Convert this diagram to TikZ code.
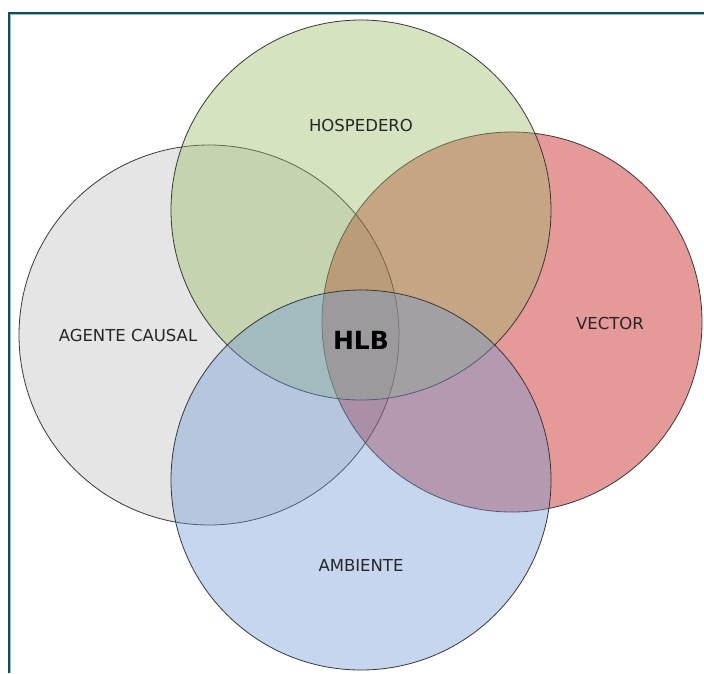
\documentclass[tikz,border=0pt]{standalone}
\usepackage{fontspec}
\setmainfont{DejaVu Sans}
\usetikzlibrary{positioning}

\definecolor{agentefill}{RGB}{192,192,192}
\definecolor{hospfill}{RGB}{150,185,98}
\definecolor{vectorfill}{RGB}{190,0,0}
\definecolor{ambfill}{RGB}{110,153,213}
\definecolor{frameline}{RGB}{25,75,95}
\definecolor{frameinner}{RGB}{140,190,215}

\tikzset{
  set/.style={circle, draw=black!78, line width=0.8pt, minimum size=380pt, fill opacity=0.4, text opacity=1, inner sep=0pt},
  setlabel/.style={font=\fontsize{16.5}{20}\selectfont, text=black!85}
}

\begin{document}
\begin{tikzpicture}[x=1pt, y=-1pt]
        \useasboundingbox (0,0) rectangle (704,673);
        \fill[white] (0,0) rectangle (704,673);
        % frame
        \coordinate (fa) at (9.5,673);
        \coordinate (fb) at (9.5,13.5);
        \coordinate (fc) at (704,13.5);
        \draw[frameinner, line width=3pt] (fa) -- (fb) -- (fc);
        \draw[frameline, line width=1.6pt] ([xshift=-0.6pt]fa) -- ([xshift=-0.6pt,yshift=0.6pt]fb) -- ([yshift=0.6pt]fc);
        % circles
        \node[set, fill=agentefill] (agente)    at (209,335) {};
        \node[set, fill=vectorfill] (vector)    at (512,322) {};
        \node[set, fill=hospfill]   (hospedero) at (361,210) {};
        \node[set, fill=ambfill]    (ambiente)  at (361,480) {};
        % labels
        \node[setlabel] (agentetxt) at (128,335) {AGENTE CAUSAL};
        \node[setlabel] (hosptxt)   at (361,125) {HOSPEDERO};
        \node[setlabel] (vectortxt) at (610,323) {VECTOR};
        \node[setlabel] (ambtxt)    at (361,565) {AMBIENTE};
        \node[font=\bfseries\fontsize{25}{30}\selectfont] (hlb) at (361,340) {HLB};
\end{tikzpicture}
\end{document}
